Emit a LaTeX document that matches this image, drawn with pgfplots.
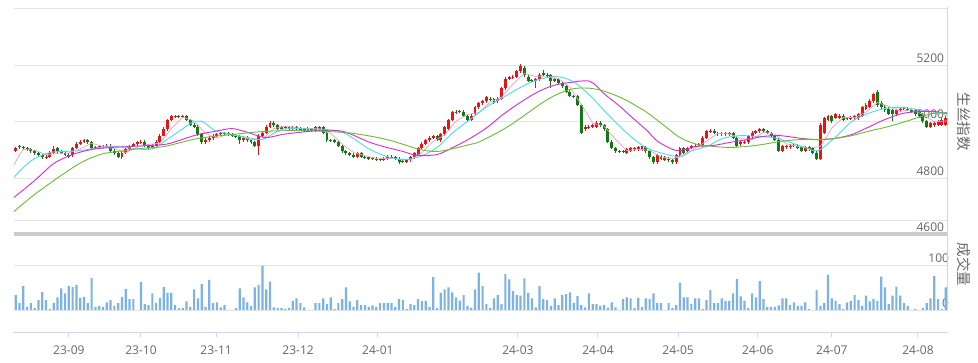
\documentclass[border=0pt]{standalone}
\usepackage{fontspec}
\setmainfont{Open Sans}
\newfontfamily\cjk{Noto Sans CJK SC}
\usepackage{pgfplots}
\usepackage{pgfplotstable}
\pgfplotsset{compat=1.18}
\definecolor{candR}{RGB}{236,18,18}
\definecolor{candG}{RGB}{16,122,16}
\definecolor{maA}{RGB}{245,155,200}
\definecolor{maB}{RGB}{70,222,235}
\definecolor{maC}{RGB}{220,40,220}
\definecolor{maD}{RGB}{105,190,45}
\definecolor{volc}{RGB}{125,178,228}
\definecolor{gridc}{RGB}{228,228,228}
\definecolor{barc}{RGB}{204,204,204}
\definecolor{txtc}{RGB}{102,102,102}
\definecolor{axc}{RGB}{204,214,235}
\pgfplotsset{candle/.style={only marks, mark=*, mark size=0pt,
  mark options={draw=none, fill=none}, forget plot,
  error bars/.cd, y dir=plus, y explicit, error mark=none}}

\pgfplotstableread{
j o h l c v
0 4897 4910 4893 4905 33
1 4912 4916 4904 4908 15
2 4908 4912 4901 4905 53
3 4905 4909 4897 4901 7
4 4901 4905 4890 4894 15
5 4894 4898 4883 4887 4
6 4887 4891 4876 4880 22
7 4880 4884 4868 4873 40
8 4873 4880 4869 4876 22
9 4876 4894 4872 4890 2
10 4890 4915 4886 4901 16
11 4905 4909 4890 4894 28
12 4894 4898 4886 4890 48
13 4890 4894 4879 4883 37
14 4883 4887 4872 4876 53
15 4880 4909 4876 4905 51
16 4905 4926 4901 4922 55
17 4922 4933 4918 4929 27
18 4929 4938 4925 4933 29
19 4933 4937 4922 4926 15
20 4926 4930 4901 4905 71
21 4905 4912 4901 4908 7
22 4908 4916 4904 4912 9
23 4910 4917 4906 4913 7
24 4912 4919 4908 4915 17
25 4915 4919 4893 4897 22
26 4897 4901 4883 4887 9
27 4887 4891 4872 4876 15
28 4873 4897 4866 4890 29
29 4890 4905 4886 4901 47
30 4901 4916 4897 4912 24
31 4912 4923 4908 4919 24
32 4919 4930 4915 4926 0
33 4926 4933 4922 4929 62
34 4929 4933 4911 4915 13
35 4915 4919 4901 4905 11
36 4905 4919 4901 4915 37
37 4915 4933 4911 4929 16
38 4929 4954 4925 4950 27
39 4950 4979 4947 4975 51
40 4972 5008 4968 5004 38
41 5004 5022 5000 5018 38
42 5017 5024 5013 5020 11
43 5020 5024 5013 5017 4
44 5016 5023 5012 5019 4
45 5018 5022 5000 5004 19
46 5004 5008 4985 4989 7
47 4989 4993 4978 4982 46
48 4982 4986 4950 4954 26
49 4954 4958 4922 4926 58
50 4926 4940 4922 4936 7
51 4933 4947 4929 4943 67
52 4940 4954 4936 4950 15
53 4950 4958 4946 4954 17
54 4954 4962 4950 4958 6
55 4958 4962 4951 4955 11
56 4958 4962 4950 4954 0
57 4954 4958 4946 4950 0
58 4950 4954 4943 4947 4
59 4947 4951 4920 4933 48
60 4933 4947 4929 4943 28
61 4943 4947 4929 4933 17
62 4933 4937 4922 4926 9
63 4926 4930 4908 4912 50
64 4912 4954 4880 4950 56
65 4950 4965 4946 4961 98
66 4961 4986 4957 4982 46
67 4982 5000 4978 4996 63
68 4996 5000 4982 4986 6
69 4986 4990 4971 4975 4
70 4975 4983 4971 4979 4
71 4980 4984 4973 4977 2
72 4979 4983 4971 4975 4
73 4975 4983 4971 4979 20
74 4979 4983 4971 4975 26
75 4975 4979 4968 4972 15
76 4972 4976 4964 4968 6
77 4968 4979 4964 4975 0
78 4972 4976 4964 4968 0
79 4968 4983 4964 4979 15
80 4972 4983 4966 4979 15
81 4979 4983 4957 4961 26
82 4961 4965 4929 4933 13
83 4934 4938 4927 4931 28
84 4933 4937 4925 4929 2
85 4929 4933 4908 4912 15
86 4912 4916 4890 4894 24
87 4894 4898 4883 4887 50
88 4887 4891 4879 4883 19
89 4883 4887 4872 4876 7
90 4876 4893 4872 4887 22
91 4887 4891 4872 4876 11
92 4876 4880 4869 4873 11
93 4873 4877 4865 4869 7
94 4868 4875 4864 4871 10
95 4869 4873 4861 4865 7
96 4867 4871 4860 4864 15
97 4865 4873 4861 4869 15
98 4869 4880 4865 4876 15
99 4876 4880 4869 4873 15
100 4873 4877 4865 4869 7
101 4869 4873 4851 4855 24
102 4860 4864 4853 4857 22
103 4858 4869 4854 4865 2
104 4862 4877 4858 4873 13
105 4873 4891 4869 4887 11
106 4883 4909 4879 4905 24
107 4905 4926 4901 4922 20
108 4922 4937 4918 4933 20
109 4933 4947 4929 4943 7
110 4943 4951 4939 4947 73
111 4947 4951 4932 4936 4
112 4933 4958 4929 4954 38
113 4954 4983 4950 4979 46
114 4975 5008 4971 5004 50
115 5004 5036 5000 5032 39
116 5032 5039 5028 5035 28
117 5036 5040 5029 5033 21
118 5035 5039 5017 5021 33
119 5021 5025 5000 5004 9
120 5007 5025 5003 5021 5
121 5025 5054 5021 5050 46
122 5050 5068 5046 5064 83
123 5064 5075 5057 5071 53
124 5071 5089 5067 5085 13
125 5081 5085 5074 5078 4
126 5078 5082 5063 5067 26
127 5071 5085 5067 5081 33
128 5081 5121 5077 5117 13
129 5117 5156 5113 5152 80
130 5152 5160 5148 5156 68
131 5156 5163 5152 5159 42
132 5159 5181 5155 5177 33
133 5177 5202 5173 5195 32
134 5191 5195 5159 5163 70
135 5159 5163 5141 5145 38
136 5146 5150 5139 5143 26
137 5142 5153 5120 5149 6
138 5149 5170 5145 5166 53
139 5173 5181 5162 5166 24
140 5166 5170 5159 5163 22
141 5163 5167 5120 5145 9
142 5145 5153 5141 5149 26
143 5149 5153 5134 5138 11
144 5138 5142 5120 5124 33
145 5124 5128 5102 5106 35
146 5106 5110 5085 5089 39
147 5090 5094 5083 5087 16
148 5089 5093 5056 5060 31
149 5057 5061 4957 4961 11
150 4972 4986 4968 4982 6
151 4979 4986 4975 4982 37
152 4982 4990 4978 4986 13
153 4982 5000 4978 4996 13
154 4996 5000 4982 4986 9
155 4986 4990 4968 4972 11
156 4972 4976 4925 4929 5
157 4929 4933 4901 4905 17
158 4905 4909 4890 4894 6
159 4895 4899 4888 4892 0
160 4894 4898 4887 4891 24
161 4890 4905 4886 4901 28
162 4897 4909 4893 4905 26
163 4901 4909 4897 4905 4
164 4901 4912 4897 4908 27
165 4901 4916 4897 4912 7
166 4908 4912 4890 4894 26
167 4894 4898 4869 4873 24
168 4873 4877 4851 4855 37
169 4855 4884 4851 4880 15
170 4876 4880 4865 4869 15
171 4865 4877 4861 4873 0
172 4869 4873 4858 4862 15
173 4862 4866 4851 4855 4
174 4855 4884 4851 4880 11
175 4880 4909 4876 4905 61
176 4905 4909 4886 4890 28
177 4894 4909 4890 4905 28
178 4905 4916 4901 4912 13
179 4912 4919 4908 4915 26
180 4915 4923 4911 4919 26
181 4915 4947 4911 4943 2
182 4943 4969 4939 4965 22
183 4965 4972 4961 4968 44
184 4968 4972 4954 4958 15
185 4958 4962 4950 4954 15
186 4954 4962 4950 4958 26
187 4958 4962 4950 4954 20
188 4954 4962 4950 4958 20
189 4958 4962 4939 4943 37
190 4943 4947 4911 4915 69
191 4919 4933 4915 4929 30
192 4926 4933 4922 4929 21
193 4926 4951 4922 4947 4
194 4947 4965 4943 4961 37
195 4961 4969 4957 4965 28
196 4965 4976 4961 4972 64
197 4972 4976 4961 4965 24
198 4965 4969 4954 4958 7
199 4958 4962 4943 4947 7
200 4947 4951 4932 4936 7
201 4936 4940 4893 4897 10
202 4897 4916 4893 4912 26
203 4908 4916 4904 4912 26
204 4908 4919 4904 4915 11
205 4914 4921 4910 4917 17
206 4915 4919 4901 4905 9
207 4908 4912 4893 4897 9
208 4897 4912 4893 4908 17
209 4908 4912 4897 4901 2
210 4905 4909 4886 4890 0
211 4890 4894 4865 4869 44
212 4869 4993 4865 4989 9
213 4961 5015 4957 5011 15
214 5007 5022 5003 5018 78
215 5018 5022 4996 5000 26
216 5014 5029 5010 5025 20
217 5014 5028 5010 5021 13
218 5021 5025 5003 5007 2
219 5012 5016 5005 5009 17
220 5011 5018 5007 5014 20
221 5011 5022 5007 5018 33
222 5011 5029 5007 5025 22
223 5021 5054 5017 5050 9
224 5046 5064 5042 5060 32
225 5053 5078 5049 5074 19
226 5071 5100 5067 5096 24
227 5103 5110 5053 5057 20
228 5067 5071 5046 5050 74
229 5053 5057 5035 5039 50
230 5046 5050 5024 5028 13
231 5042 5046 5000 5025 32
232 5025 5046 5021 5042 52
233 5039 5050 5035 5046 32
234 5045 5052 5041 5048 15
235 5046 5050 5038 5042 9
236 5042 5046 5031 5035 0
237 5039 5043 5021 5025 2
238 5035 5039 5017 5021 0
239 5025 5029 4996 5000 4
240 5000 5004 4978 4982 15
241 4982 4997 4978 4993 26
242 4986 5000 4982 4996 76
243 4989 5004 4985 5000 24
244 4989 5011 4985 5007 2
245 4989 5018 4985 5014 50
}\kdata

\begin{document}
\begin{tikzpicture}
% ---------------- volume panel ----------------
\begin{axis}[
  at={(13.8pt,30.5pt)}, anchor=south west, scale only axis,
  width=933.8pt, height=112.5pt,
  xmin=-0.5, xmax=245.5, ymin=-50, ymax=200,
  axis line style={draw=none},
  ytick={0,100,200}, yticklabels={0,100,},
  yticklabel pos=right,
  ymajorgrids, major grid style={draw=gridc, line width=0.8pt},
  ytick style={draw=none},
  extra y ticks={-50}, extra y tick labels={},
  extra y tick style={grid=major, major grid style={draw=axc, line width=1pt}, major tick length=0pt},
  y tick label style={anchor=east, yshift=7pt, font=\fontsize{12}{14}\selectfont, text=txtc},
  xtick={14,33,52.8,74.4,95.4,132.3,153.4,174.5,195.5,215,237.7},
  xticklabels={23-09,23-10,23-11,23-12,24-01,24-03,24-04,24-05,24-06,24-07,24-08},
  xtick pos=left, tick align=outside, major tick length=5pt,
  xtick style={draw=axc, line width=1pt},
  x tick label style={font=\fontsize{12}{14}\selectfont, text=txtc, yshift=-5pt},
]
\addplot[ybar, bar width=2.2pt, fill=volc, draw=none] table[x=j, y=v] \kdata;
\end{axis}
% ---------------- price panel ----------------
\begin{axis}[
  at={(13.8pt,128.5pt)}, anchor=south west, scale only axis,
  width=933.8pt, height=226pt,
  xmin=-0.5, xmax=245.5, ymin=4600, ymax=5400,
  axis line style={draw=none},
  xtick=\empty,
  ytick={4600,4800,5000,5200,5400}, yticklabels={4600,4800,5000,5200,},
  yticklabel pos=right,
  ymajorgrids, major grid style={draw=gridc, line width=0.8pt},
  ytick style={draw=none},
  extra y ticks={4600}, extra y tick labels={},
  extra y tick style={grid=major, major grid style={draw=barc, line width=4pt}, major tick length=0pt},
  y tick label style={anchor=east, yshift=7pt, font=\fontsize{12}{14}\selectfont, text=txtc},
]
% red wicks
\addplot[candle, error bar style={draw=candR, line width=1pt}]
  table[x expr={\thisrow{j}+1000*(\thisrow{c}<\thisrow{o})}, y=l,
        y error plus expr={\thisrow{h}-\thisrow{l}}] \kdata;
% red bodies
\addplot[candle, error bar style={draw=candR, line width=2.9pt}]
  table[x expr={\thisrow{j}+1000*(\thisrow{c}<\thisrow{o})},
        y expr={min(\thisrow{o},\thisrow{c})},
        y error plus expr={abs(\thisrow{c}-\thisrow{o})}] \kdata;
% green wicks
\addplot[candle, error bar style={draw=candG, line width=1pt}]
  table[x expr={\thisrow{j}+1000*(\thisrow{c}>\thisrow{o})}, y=l,
        y error plus expr={\thisrow{h}-\thisrow{l}}] \kdata;
% green bodies
\addplot[candle, error bar style={draw=candG, line width=2.9pt}]
  table[x expr={\thisrow{j}+1000*(\thisrow{c}>\thisrow{o})},
        y expr={min(\thisrow{o},\thisrow{c})},
        y error plus expr={abs(\thisrow{c}-\thisrow{o})}] \kdata;
% MA lines
\addplot[maA, line width=0.7pt] coordinates {
(-0.5,4845) (1,4883) (2,4901) (5,4899) (8,4882) (11,4887) (14,4889) (17,4903) (20,4923) (23,4912) (26,4904) (29,4890) (32,4909) (35,4919) (38,4923) (41,4975) (44,5015) (47,5002) (50,4958) (53,4942) (56,4955) (59,4948) (62,4936) (65,4936) (68,4975) (71,4983) (74,4977) (77,4974) (80,4974) (83,4957) (86,4920) (89,4890) (92,4879) (95,4870) (98,4869) (101,4868) (104,4864) (107,4890) (110,4930) (113,4952) (116,5001) (119,5025) (122,5032) (125,5069) (128,5086) (131,5133) (134,5170) (137,5159) (140,5158) (143,5152) (146,5121) (149,5061) (152,4994) (155,4984) (158,4937) (161,4897) (164,4902) (167,4898) (170,4874) (173,4868) (176,4878) (179,4905) (182,4931) (185,4958) (188,4956) (191,4940) (194,4936) (197,4962) (200,4955) (203,4921) (206,4912) (209,4905) (212,4912) (215,4977) (218,5014) (221,5014) (224,5033) (227,5067) (230,5054) (233,5036) (236,5042) (239,5025) (242,4999) (245.5,5002)
};
\addplot[maB, line width=0.9pt, smooth, tension=0.5] coordinates {
(-0.5,4802) (2,4837) (5,4869) (9,4890) (13,4894) (17,4897) (22.2,4908) (26.6,4912) (35.4,4901) (39.8,4936) (43.8,4972) (46.4,4996) (49.1,5000) (52.5,4968) (57,4954) (61.2,4943) (64.9,4936) (67.5,4954) (70.2,4972) (74.4,4975) (81.5,4972) (86.2,4961) (88.9,4940) (93.3,4901) (97.8,4876) (102,4865) (106.5,4876) (111,4908) (115.2,4961) (119.7,5007) (124.2,5053) (128.4,5085) (132.9,5120) (136.3,5142) (141.5,5159) (145,5152) (148,5131) (151.8,5085) (156,5025) (160.5,4965) (163.7,4929) (167.1,4901) (174.2,4876) (177.6,4894) (182.1,4912) (186.3,4940) (190.8,4950) (195.3,4947) (199.5,4943) (204,4926) (207.9,4908) (211.4,4897) (215.8,4943) (220.3,5000) (224.5,5028) (229,5046) (233.5,5050) (237.7,5042) (242.2,5032) (245.5,5021)
};
\addplot[maC, line width=0.9pt, smooth, tension=0.5] coordinates {
(-0.5,4731) (5,4791) (10,4851) (15,4883) (20,4901) (25,4908) (30.9,4912) (39.3,4919) (43.8,4936) (48,4954) (52.5,4965) (57,4975) (61.2,4961) (65.7,4943) (70.2,4954) (74.4,4961) (80.2,4968) (86.2,4965) (93.3,4926) (97.8,4908) (102,4894) (105.7,4880) (111,4883) (115.2,4908) (119.7,4940) (124.2,4979) (128.4,5025) (132.9,5067) (137.3,5103) (141.5,5127) (146,5138) (151.3,5142) (155.2,5096) (159.2,5053) (162.4,5014) (166.3,4968) (169.2,4929) (174.2,4897) (179.5,4912) (183.7,4915) (188.2,4926) (192.7,4936) (196.9,4947) (201.3,4950) (207.1,4940) (211.4,4936) (215.8,4940) (220.3,4954) (224.5,4979) (229,5007) (233.5,5028) (237.7,5035) (242.2,5035) (245.5,5028)
};
\addplot[maD, line width=0.9pt, smooth, tension=0.5] coordinates {
(-0.5,4681) (4.6,4738) (9,4781) (13.5,4823) (17.7,4858) (22.2,4883) (24.8,4890) (32.7,4904) (39.3,4912) (48,4940) (57,4954) (65.7,4965) (74.4,4968) (81.5,4965) (88.9,4958) (97.8,4936) (106.5,4901) (111,4894) (115.2,4904) (119.7,4919) (122.3,4929) (129.7,4982) (138.8,5067) (143.1,5099) (147.3,5117) (151.8,5117) (156,5103) (160.5,5078) (163.7,5053) (166.3,5032) (170.5,4989) (175,4943) (179.5,4919) (183.7,4912) (188.2,4908) (192.7,4912) (196.9,4919) (201.3,4929) (206.6,4936) (211.4,4936) (215.8,4940) (220.3,4950) (224.5,4965) (229,4979) (233.5,4996) (237.7,5014) (241.4,5028) (245.5,5032)
};
\end{axis}
% right axis line and titles
\draw[axc, line width=1pt] (947.6pt,356pt) -- (947.6pt,53pt);
\node[rotate=-90, font=\cjk\fontsize{14.5}{16}\selectfont, text=txtc] at (964pt,241pt) {生丝指数};
\node[rotate=-90, font=\cjk\fontsize{14.5}{16}\selectfont, text=txtc] at (964pt,98.5pt) {成交量};
\pgfresetboundingbox
\path[use as bounding box] (0,0) rectangle (978pt,363pt);
\end{tikzpicture}
\end{document}
